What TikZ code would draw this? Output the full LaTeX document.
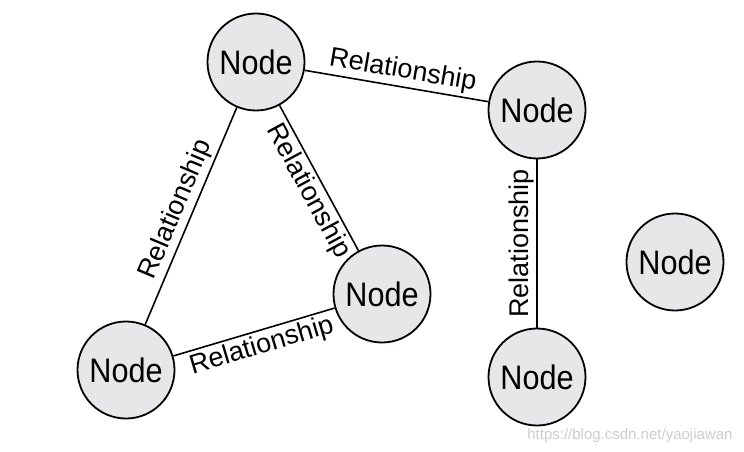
\documentclass[tikz,border=0pt]{standalone}
\usepackage{fontspec}
\setmainfont{Liberation Sans}
\newfontfamily\nodefont[FakeStretch=0.9]{Liberation Sans}
\newfontfamily\relfont{Liberation Sans}
\newfontfamily\wmfont{Liberation Sans}
\definecolor{nodefill}{RGB}{230,231,232}
\begin{document}
\begin{tikzpicture}[x=1pt,y=-1pt,
  gnode/.style={circle,draw=black,line width=1.8pt,fill=nodefill,minimum size=97pt,inner sep=0pt,font=\nodefont\fontsize{34}{36}\selectfont},
  edge/.style={line width=1.6pt},
  rel/.style={sloped,inner sep=2.5pt,font=\relfont\fontsize{27}{29}\selectfont}]
\useasboundingbox (0,0) rectangle (744,452);
\node[gnode] (A) at (256,62) {Node};
\node[gnode] (B) at (537,110) {Node};
\node[gnode] (C) at (382,294) {Node};
\node[gnode] (D) at (126,370) {Node};
\node[gnode] (E) at (537,377) {Node};
\node[gnode] (F) at (675,262) {Node};
\draw[edge] (A) -- node[rel,above,pos=0.52] {Relationship} (B);
\draw[edge] (A) -- node[rel,below,pos=0.54] {Relationship} (C);
\draw[edge] (D) -- node[rel,above,pos=0.5] {Relationship} (A);
\draw[edge] (D) -- node[rel,below,pos=0.52] {Relationship} (C);
\draw[edge] (E) -- node[rel,above,pos=0.5] {Relationship} (B);
\node[text=gray!40,font=\wmfont\fontsize{15}{16}\selectfont,anchor=east] (W) at (736,436) {https://blog.csdn.net/yaojiawan};
\end{tikzpicture}
\end{document}
